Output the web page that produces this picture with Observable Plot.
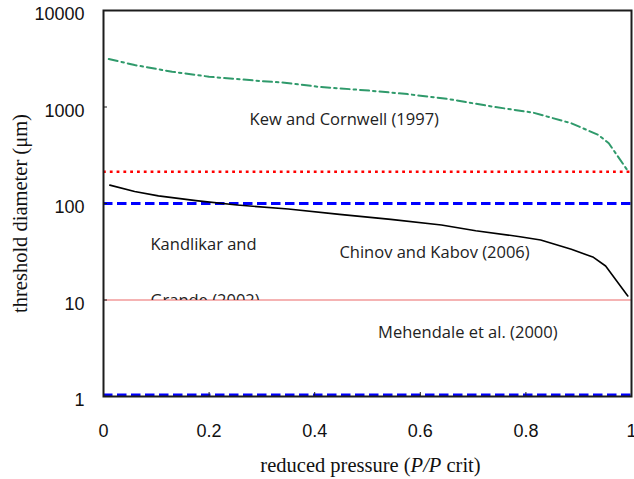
<!DOCTYPE html>
<html>
<head>
<meta charset="utf-8">
<script src="https://cdn.jsdelivr.net/npm/d3@7"></script>
<script src="https://cdn.jsdelivr.net/npm/@observablehq/plot@0.6"></script>
<style>
  html, body { margin: 0; padding: 0; background: #fff; }
</style>
</head>
<body>
<div id="chart"></div>
<script>
// Kew and Cornwell (1997) threshold curve
const kewP = [0.01, 0.059, 0.13, 0.20, 0.297, 0.343, 0.407, 0.506, 0.576, 0.653, 0.738, 0.814, 0.886, 0.9375, 0.957, 0.994];
const kewD = [3140, 2720, 2320, 2060, 1860, 1785, 1620, 1475, 1360, 1210, 1007, 873, 678, 513, 421, 214];
// Chinov and Kabov (2006) threshold curve
const chinovP = [0.012, 0.059, 0.104, 0.175, 0.253, 0.35, 0.447, 0.544, 0.64, 0.705, 0.789, 0.828, 0.886, 0.928, 0.951, 0.993];
const chinovD = [155, 133, 120, 107, 96.4, 87.7, 77.2, 68.5, 59.8, 52.2, 45.3, 41.9, 33.5, 27.7, 22.5, 11.0];
// constant thresholds
const kandlikarUpper = [213];   // red dotted
const kandlikarLower = [10];    // pink solid
const mehendaleLevels = [100, 1.04]; // blue dashed

// tick values
const yTicks = [1, 10, 100, 1000, 10000];
const xTicks = [0, 0.2, 0.4, 0.6, 0.8, 1];

// annotation labels (centred)
const labelText = ["Kew and Cornwell (1997)", "Chinov and Kabov (2006)", "Mehendale et al. (2000)"];
const labelP = [0.456, 0.627, 0.69];
const labelD = [733, 30.7, 4.55];
// annotation labels (left-aligned, two-line box clipped at the 10 µm line)
const kandText = ["Kandlikar and", "Grande (2002)"];
const kandP = [0.089, 0.089];
const kandD = [37.1, 9.9];

const labels = labelText.map((t, i) => ({t, p: labelP[i], d: labelD[i]}));
const kand = kandText.map((t, i) => ({t, p: kandP[i], d: kandD[i]}));
const kew = kewP.map((p, i) => ({p, d: kewD[i]}));
const chinov = chinovP.map((p, i) => ({p, d: chinovD[i]}));

const annFont = "'Open Sans', 'Noto Sans', sans-serif";
const tickFont = "'Liberation Sans Narrow', 'Arial Narrow', sans-serif";
const serif = "'Liberation Serif', 'Times New Roman', serif";

const plot = Plot.plot({
  width: 634,
  height: 479,
  marginLeft: 103,
  marginRight: 3,
  marginTop: 10,
  marginBottom: 83,
  style: {background: "#fff", overflow: "visible"},
  x: {domain: [0, 1]},
  y: {type: "log", domain: [1, 10000]},
  marks: [
    Plot.ruleY(kandlikarLower, {stroke: "#f29a9a", strokeWidth: 1.3}),
    Plot.ruleY(kandlikarUpper, {stroke: "#ff0000", strokeWidth: 2.5, strokeDasharray: "2.8,4"}),
    Plot.ruleY(mehendaleLevels, {stroke: "#0000ff", strokeWidth: 2.8, strokeDasharray: "9.5,4.5"}),
    Plot.line(kew, {x: "p", y: "d", stroke: "#2f9a6b", strokeWidth: 2, strokeDasharray: "9,4,2.5,4"}),
    Plot.line(chinov, {x: "p", y: "d", stroke: "#000", strokeWidth: 1.6}),
    Plot.text(labels, {x: "p", y: "d", text: "t", textAnchor: "middle", fontFamily: annFont, fontSize: 16.5, fill: "#222"}),
    Plot.text(kand, {
      x: "p", y: "d", text: "t", textAnchor: "start", fontFamily: annFont, fontSize: 16.5, fill: "#222",
      render(index, scales, values, dims, context, next) {
        const g = next(index, scales, values, dims, context);
        const ns = "http://www.w3.org/2000/svg";
        const cp = document.createElementNS(ns, "clipPath");
        cp.setAttribute("id", "kand-clip");
        const r = document.createElementNS(ns, "rect");
        r.setAttribute("x", 0);
        r.setAttribute("y", 0);
        r.setAttribute("width", dims.width);
        r.setAttribute("height", scales.y(kandlikarLower[0]));
        cp.appendChild(r);
        g.insertBefore(cp, g.firstChild);
        g.setAttribute("clip-path", "url(#kand-clip)");
        return g;
      }
    }),
    Plot.frame({stroke: "#1c1c1c", strokeWidth: 2}),
    // y tick marks (inside) and labels
    Plot.axisY({ticks: yTicks, tickSize: 4, dx: 4, text: null, label: null, stroke: "#1c1c1c"}),
    Plot.axisY({ticks: yTicks, tickSize: 0, tickPadding: 19, dy: 4, tickFormat: d => String(d), fontSize: 18, fontFamily: tickFont, label: null, fill: "#111"}),
    // x tick marks (inside) and labels
    Plot.axisX({ticks: xTicks, tickSize: 4, dy: -4, text: null, label: null, stroke: "#1c1c1c"}),
    Plot.axisX({ticks: xTicks, tickSize: 0, tickPadding: 28, tickFormat: d => String(d), fontSize: 18, fontFamily: tickFont, label: null, fill: "#111"}),
    // axis titles
    Plot.text(["threshold diameter (μm)"], {frameAnchor: "left", textAnchor: "middle", lineAnchor: "middle", rotate: -90, dx: -83, dy: 10, fontFamily: serif, fontSize: 20.5, fill: "#111"}),
    Plot.text(["reduced pressure (P/P crit)"], {
      frameAnchor: "bottom", textAnchor: "middle", lineAnchor: "middle", dx: 3, dy: 69, fontFamily: serif, fontSize: 20.5, fill: "#111",
      render(index, scales, values, dims, context, next) {
        const g = next(index, scales, values, dims, context);
        const txt = g.querySelector("text");
        if (txt) {
          const sel = d3.select(txt);
          sel.text("");
          sel.append("tspan").text("reduced pressure (");
          sel.append("tspan").attr("font-style", "italic").text("P/P");
          sel.append("tspan").text(" crit)");
        }
        return g;
      }
    })
  ]
});

document.getElementById("chart").appendChild(plot);
</script>
</body>
</html>
